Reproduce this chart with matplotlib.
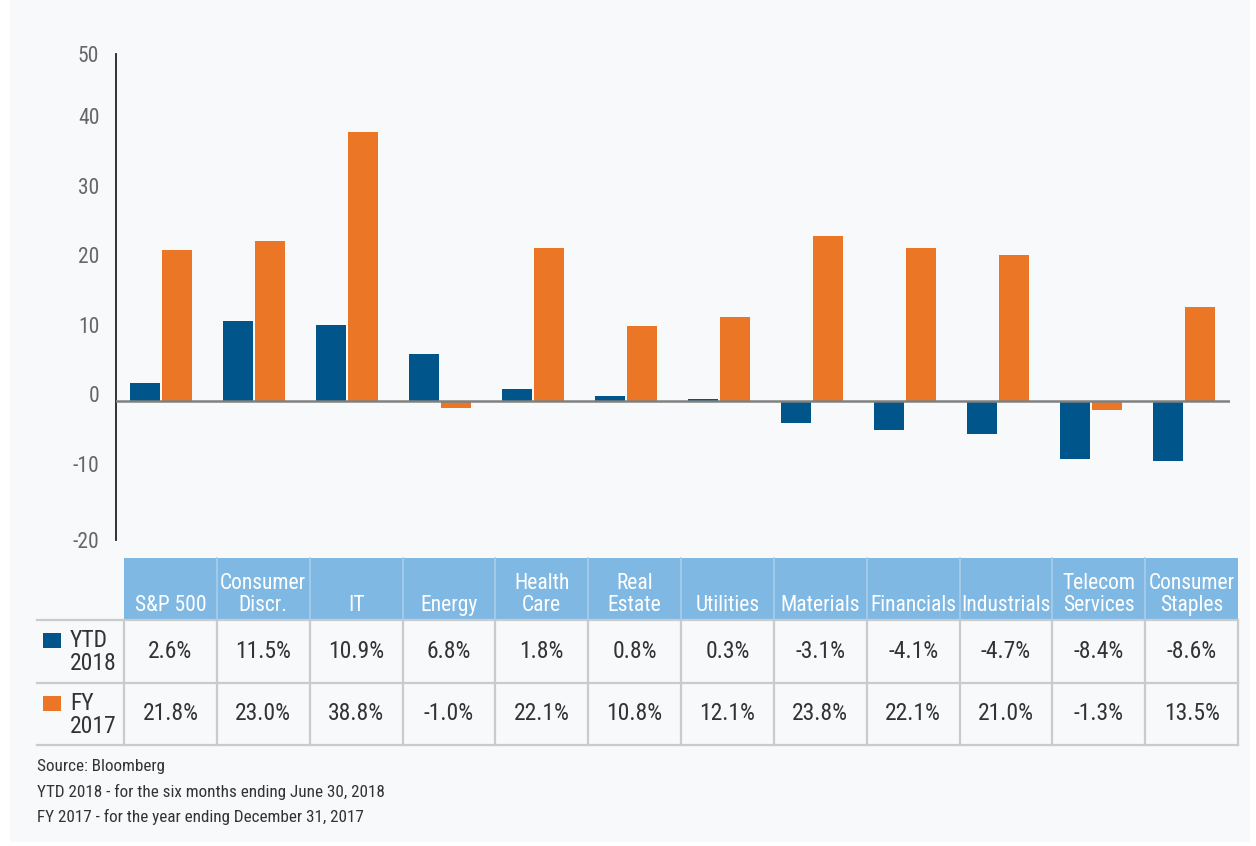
import matplotlib
matplotlib.use("Agg")
import matplotlib.pyplot as plt
import matplotlib.patches as patches
import matplotlib.transforms as mtransforms
from matplotlib import font_manager

# data
sectors = ["S&P 500", "Consumer\nDiscr.", "IT", "Energy", "Health\nCare", "Real\nEstate",
           "Utilities", "Materials", "Financials", "Industrials", "Telecom\nServices",
           "Consumer\nStaples"]
ytd_2018 = [2.6, 11.5, 10.9, 6.8, 1.8, 0.8, 0.3, -3.1, -4.1, -4.7, -8.4, -8.6]
fy_2017 = [21.8, 23.0, 38.8, -1.0, 22.1, 10.8, 12.1, 23.8, 22.1, 21.0, -1.3, 13.5]
series_names = ["YTD\n2018", "FY\n2017"]
y_ticks = [-20, -10, 0, 10, 20, 30, 40, 50]
notes = ["Source: Bloomberg",
         "YTD 2018 - for the six months ending June 30, 2018",
         "FY 2017 - for the year ending December 31, 2017"]

BLUE = "#00568a"
ORANGE = "#ea7626"
HEADER = "#80b8e4"
CARD = "#f7f9fb"
GRID = "#c9cbcd"
TEXT = "#333333"

# pick a narrow font if one is there
names = {f.name for f in font_manager.fontManager.ttflist}
FONT, SCALE = "Roboto", 0.8
for cand in ["Liberation Sans Narrow", "Roboto Condensed", "Open Sans Condensed"]:
    if cand in names:
        FONT, SCALE = cand, 1.0
        break
plt.rcParams["font.family"] = [FONT, "DejaVu Sans"]

W, H = 1256, 846
fig = plt.figure(figsize=(W / 100, H / 100), dpi=100)
fig.patch.set_facecolor("white")

# overlay axes in pixel coordinates for card + table
ov = fig.add_axes([0, 0, 1, 1])
ov.set_xlim(0, W)
ov.set_ylim(H, 0)
ov.axis("off")
ov.add_patch(patches.Rectangle((10, 0), 1240, 842, facecolor=CARD, edgecolor="none"))

# bar chart
ax_l, ax_r, ax_t, ax_b = 116, 1230, 54, 540
ax = fig.add_axes([ax_l / W, 1 - ax_b / H, (ax_r - ax_l) / W, (ax_b - ax_t) / H])
ax.set_facecolor("none")
ax.set_zorder(2)

px = 92.83  # pixels per group
x = list(range(len(sectors)))
bw = 30 / px
off = 16 / px
ax.bar([i - off for i in x], ytd_2018, width=bw, color=BLUE, zorder=2)
ax.bar([i + off for i in x], fy_2017, width=bw, color=ORANGE, zorder=2)
ax.axhline(0, color="#808080", lw=1.8, zorder=3)
ax.set_xlim(-45 / px, len(sectors) - 1 + 46 / px)
ax.set_ylim(-20, 50)
ax.set_yticks(y_ticks)
ax.set_yticklabels([str(t) for t in y_ticks])
ax.tick_params(axis="y", length=0, pad=12, labelsize=15.5 * SCALE, labelcolor="#666666")
shift = mtransforms.ScaledTranslation(0, 7 / 100, fig.dpi_scale_trans)
for lab in ax.get_yticklabels()[1:-1]:
    lab.set_transform(lab.get_transform() + shift)
ax.set_xticks([])
for s in ["top", "right", "bottom"]:
    ax.spines[s].set_visible(False)
ax.spines["left"].set_color("#222222")
ax.spines["left"].set_linewidth(1.3)

# table
col0, col_w = 124, (1238 - 124) / 12
y_head, y_r1, y_r2, y_end = 558, 620, 683, 745
ov.add_patch(patches.Rectangle((col0, y_head), 12 * col_w, y_r1 - y_head,
                               facecolor=HEADER, edgecolor="none"))
fs_head = 15.5 * SCALE
fs_val = 17 * SCALE
for i, name in enumerate(sectors):
    cx = col0 + (i + 0.5) * col_w
    ov.text(cx, 616, name, ha="center", va="bottom", color="white",
            fontsize=fs_head, linespacing=1.05)
    ov.text(cx, (y_r1 + y_r2) / 2, f"{ytd_2018[i]:.1f}%", ha="center", va="center",
            color=TEXT, fontsize=fs_val)
    ov.text(cx, (y_r2 + y_end) / 2, f"{fy_2017[i]:.1f}%", ha="center", va="center",
            color=TEXT, fontsize=fs_val)

# grid lines
for y in [y_r1, y_r2, y_end]:
    ov.plot([37, col0 + 12 * col_w], [y, y], color=GRID, lw=1.6)
for i in range(13):
    xv = col0 + i * col_w
    ov.plot([xv, xv], [y_r1, y_end], color=GRID, lw=1.6)
    if 0 < i < 12:
        ov.plot([xv, xv], [y_head, y_r1], color="#a9cdea", lw=1.2)

# row labels with legend squares
for (yr, name, c) in [(y_r1, series_names[0], BLUE), (y_r2, series_names[1], ORANGE)]:
    ov.add_patch(patches.Rectangle((43, yr + 13), 18, 15, facecolor=c, edgecolor="none"))
    ov.text(70, yr + 32, name, ha="left", va="center", color=TEXT,
            fontsize=fs_val, linespacing=1.0)

# footnotes
for k, note in enumerate(notes):
    ov.text(37, 767 + k * 25, note, ha="left", va="center", color=TEXT,
            fontsize=12.3 * SCALE)

fig.savefig("out.png", dpi=100, facecolor=fig.get_facecolor())
